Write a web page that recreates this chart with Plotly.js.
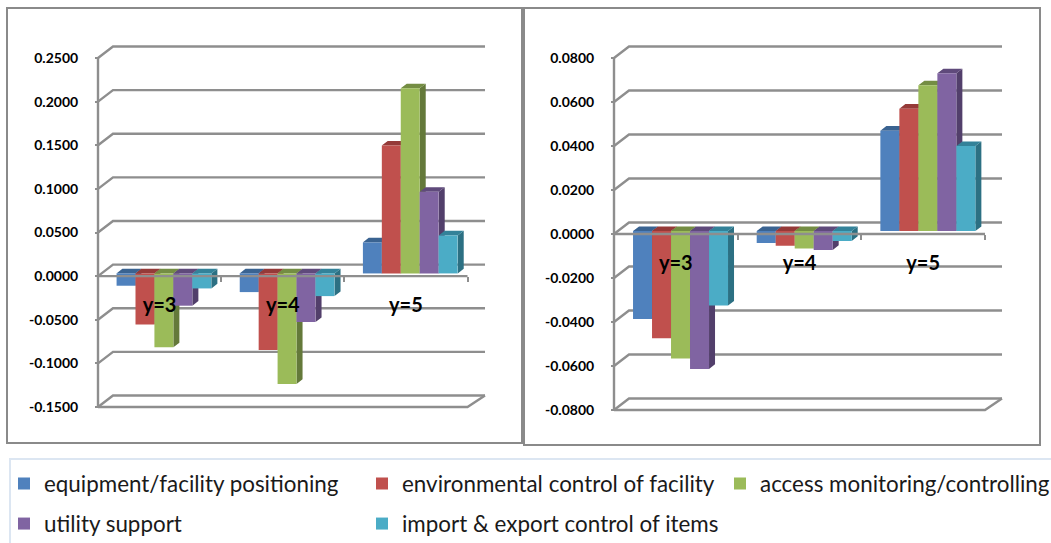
<!DOCTYPE html>
<html>
<head>
<meta charset="utf-8">
<script src="https://cdn.plot.ly/plotly-3.0.1.min.js"></script>
<style>html,body{margin:0;padding:0;background:#fff}#chart{width:1051px;height:543px}</style>
</head>
<body>
<div id="chart"></div>
<script>
var categories = ['y=3', 'y=4', 'y=5'];
var seriesNames = ['equipment/facility positioning', 'environmental control of facility', 'access monitoring/controlling', 'utility support', 'import & export control of items'];

var leftEquipment = [-0.0141, -0.0214, 0.0355];
var leftEnvironment = [-0.0584, -0.0878, 0.1466];
var leftAccess = [-0.0847, -0.1267, 0.2122];
var leftUtility = [-0.0370, -0.0557, 0.0935];
var leftImport = [-0.0172, -0.0260, 0.0435];

var rightEquipment = [-0.0400, -0.0055, 0.0456];
var rightEnvironment = [-0.0488, -0.0067, 0.0556];
var rightAccess = [-0.0579, -0.0079, 0.0662];
var rightUtility = [-0.0627, -0.0086, 0.0717];
var rightImport = [-0.0339, -0.0045, 0.0386];

var leftTicks = [-0.15, -0.10, -0.05, 0, 0.05, 0.10, 0.15, 0.20, 0.25];
var leftTickText = ['-0.1500', '-0.1000', '-0.0500', '0.0000', '0.0500', '0.1000', '0.1500', '0.2000', '0.2500'];
var rightTicks = [-0.08, -0.06, -0.04, -0.02, 0, 0.02, 0.04, 0.06, 0.08];
var rightTickText = ['-0.0800', '-0.0600', '-0.0400', '-0.0200', '0.0000', '0.0200', '0.0400', '0.0600', '0.0800'];

var frontColors = ['#4F81BD', '#C0504D', '#9BBB59', '#8064A2', '#4BACC6'];
var topColors = ['#3A6391', '#953A38', '#748D43', '#5F4A7B', '#338299'];
var sideColors = ['#2F5178', '#7B2F2D', '#64793A', '#523F6B', '#2C7083'];
var gridColor = '#8E8E8E';

var W = 1051, H = 543;
var FONT = 'Lato, sans-serif';
function fx(p) { return p / W; }
function fy(p) { return 1 - p / H; }

var traces = [], layout = {
  width: W, height: H, margin: {l: 0, r: 0, t: 0, b: 0, autoexpand: false}, paper_bgcolor: '#fff', plot_bgcolor: 'rgba(0,0,0,0)',
  showlegend: true, barmode: 'group', hovermode: false, shapes: []
};

function panel(cfg) {
  var n = cfg.firstAxis;
  var id = function (k) { return k === 1 ? '' : String(k); };
  var xMain = 'x' + id(n), yMain = 'y' + id(n);
  var xFace = 'x' + id(n + 1), yFace = 'y' + id(n + 1);
  var xBar = 'x' + id(n + 2), yBar = 'y' + id(n + 2);
  var xLine = 'x' + id(n + 3), yLine = 'y' + id(n + 3);
  var catW = (cfg.right - cfg.left) / categories.length;
  var unitPx = (cfg.bottom - cfg.top) / (cfg.ymax - cfg.ymin);
  var px2x = function (p) { return p / catW; };
  var px2y = function (p) { return p / unitPx; };
  var x0 = -0.5, x1 = categories.length - 0.5;
  var pad = 3;
  var xr = [x0 - px2x(pad), x1 + px2x(cfg.backRight + pad)];
  var yr = [cfg.ymin - px2y(pad), cfg.ymax + px2y(cfg.backUp + pad)];
  var zeroPx = cfg.top + cfg.ymax * unitPx;
  var gap = 1 - 5 * cfg.barPx / catW;
  var dom = [fx(cfg.left - pad), fx(cfg.right + cfg.backRight + pad)];
  var domY = [fy(cfg.bottom + pad), fy(cfg.top - cfg.backUp - pad)];

  layout['xaxis' + id(n)] = {
    domain: dom, range: xr, type: 'linear', anchor: 'free', position: fy(zeroPx), fixedrange: true,
    showgrid: false, zeroline: false, showline: false,
    tickmode: 'array', tickvals: [0, 1, 2], ticktext: categories, ticks: '', ticklen: 0, ticklabelstandoff: 15,
    tickfont: {family: FONT, size: 20, color: '#000', weight: 700},
    minor: {tickmode: 'array', tickvals: [0.5, 1.5, 2.5], ticks: 'outside', ticklen: 5, tickwidth: 2, tickcolor: gridColor, showgrid: false}
  };
  layout['yaxis' + id(n)] = {
    domain: domY, range: yr, anchor: 'free', position: fx(cfg.left), fixedrange: true, showgrid: false, zeroline: false, showline: false,
    tickmode: 'array', tickvals: cfg.ticks, ticktext: cfg.tickText, ticks: 'outside', ticklen: 3, tickwidth: 2, tickcolor: gridColor,
    ticklabelstandoff: 14, tickfont: {family: FONT, size: 14, color: '#000', weight: 700}
  };
  var sx = px2x(cfg.shiftX), sy = px2y(cfg.shiftY);
  [[xFace, yFace, n + 1, sx, sy], [xBar, yBar, n + 2, sx, sy], [xLine, yLine, n + 3, 0, 0]].forEach(function (a) {
    layout['xaxis' + id(a[2])] = {domain: dom, range: [xr[0] - a[3], xr[1] - a[3]], overlaying: xMain, anchor: a[1], visible: false, fixedrange: true};
    layout['yaxis' + id(a[2])] = {domain: domY, range: [yr[0] - a[4], yr[1] - a[4]], overlaying: yMain, anchor: a[0], visible: false, fixedrange: true};
  });

  // back wall + left wall + floor, drawn from the tick values
  var wx = [], wy = [], dL = px2x(cfg.backLeft), dR = px2x(cfg.backRight), dY = px2y(cfg.backUp);
  cfg.ticks.forEach(function (v) {
    wx.push(x0, x0 + dL, x1 + dR, null);
    wy.push(v, v + dY, v + dY, null);
  });
  wx.push(x0, x1, x1 + dR, null);
  wy.push(cfg.ymin, cfg.ymin, cfg.ymin + dY, null);
  wx.push(x0, x0, null);
  wy.push(cfg.ymin, cfg.ymax, null);
  traces.push({type: 'scatter', mode: 'lines', x: wx, y: wy, xaxis: xMain, yaxis: yMain, showlegend: false, hoverinfo: 'skip', line: {color: gridColor, width: 2.4}});

  // 3-D faces of each bar, derived from the values
  var w = (1 - gap) / 5, ddx = px2x(cfg.depthX), ddy = px2y(cfg.depthY);
  cfg.series.forEach(function (vals, i) {
    var sX = [], sY = [], tX = [], tY = [];
    vals.forEach(function (v, g) {
      var L = g + (i - 2.5) * w, R = L + w, lo = Math.min(v, 0), hi = Math.max(v, 0);
      sX.push(R, R, R + ddx, R + ddx, R, null);
      sY.push(lo, hi, hi + ddy, lo + ddy, lo, null);
      tX.push(L, R, R + ddx, L + ddx, L, null);
      tY.push(hi, hi, hi + ddy, hi + ddy, hi, null);
    });
    traces.push({type: 'scatter', mode: 'lines', x: sX, y: sY, fill: 'toself', fillcolor: sideColors[i], line: {width: 0}, xaxis: xFace, yaxis: yFace, showlegend: false, hoverinfo: 'skip'});
    traces.push({type: 'scatter', mode: 'lines', x: tX, y: tY, fill: 'toself', fillcolor: topColors[i], line: {width: 0}, xaxis: xFace, yaxis: yFace, showlegend: false, hoverinfo: 'skip'});
  });
  cfg.series.forEach(function (vals, i) {
    var t = {type: 'bar', name: seriesNames[i], x: [0, 1, 2], y: vals, xaxis: xBar, yaxis: yBar, marker: {color: frontColors[i], line: {width: 0}}, hoverinfo: 'skip', showlegend: !!cfg.legend};
    if (cfg.legend) t.legend = i === 0 ? 'legend' : 'legend' + (i + 1);
    traces.push(t);
  });
  // front zero line sits over the bars
  traces.push({type: 'scatter', mode: 'lines', x: [x0, x1], y: [0, 0], xaxis: xLine, yaxis: yLine, showlegend: false, hoverinfo: 'skip', line: {color: gridColor, width: 2.4}});
  layout.bargap = gap;
  layout.bargroupgap = 0;
}

panel({firstAxis: 1, left: 98, right: 467.5, top: 58, bottom: 407, ymin: -0.15, ymax: 0.25, ticks: leftTicks, tickText: leftTickText,
  series: [leftEquipment, leftEnvironment, leftAccess, leftUtility, leftImport], barPx: 19, shiftX: 4.3, shiftY: 2.7,
  backLeft: 15, backRight: 17.5, backUp: 11.5, depthX: 6, depthY: 4.6, legend: true});
panel({firstAxis: 5, left: 614, right: 985, top: 58, bottom: 410, ymin: -0.08, ymax: 0.08, ticks: rightTicks, tickText: rightTickText,
  series: [rightEquipment, rightEnvironment, rightAccess, rightUtility, rightImport], barPx: 19, shiftX: 4.7, shiftY: 3,
  backLeft: 15, backRight: 17, backUp: 11.5, depthX: 6, depthY: 4.6, legend: false});

function frame(x0, y0, x1, y1, color, width) {
  layout.shapes.push({type: 'rect', xref: 'paper', yref: 'paper', x0: fx(x0), x1: fx(x1), y0: fy(y0), y1: fy(y1), line: {color: color, width: width}, fillcolor: 'rgba(0,0,0,0)', layer: 'below'});
}
frame(7, 8, 522, 443, '#8A8A8A', 2);
frame(524, 8, 1040, 445, '#8A8A8A', 2);
frame(10, 459, 1060, 560, '#DCE6F2', 2);

var legendSpots = [[4, 484], [362, 484], [720, 484], [4, 524], [362, 524]];
legendSpots.forEach(function (s, i) {
  layout[i === 0 ? 'legend' : 'legend' + (i + 1)] = {
    x: fx(s[0]), y: fy(s[1]), xanchor: 'left', yanchor: 'middle', orientation: 'v', bgcolor: 'rgba(0,0,0,0)', borderwidth: 0,
    font: {family: FONT, size: 22.4, color: '#1a1a1a'}, itemclick: false, itemdoubleclick: false
  };
});

Plotly.newPlot('chart', traces, layout, {displayModeBar: false, staticPlot: true});
</script>
</body>
</html>
